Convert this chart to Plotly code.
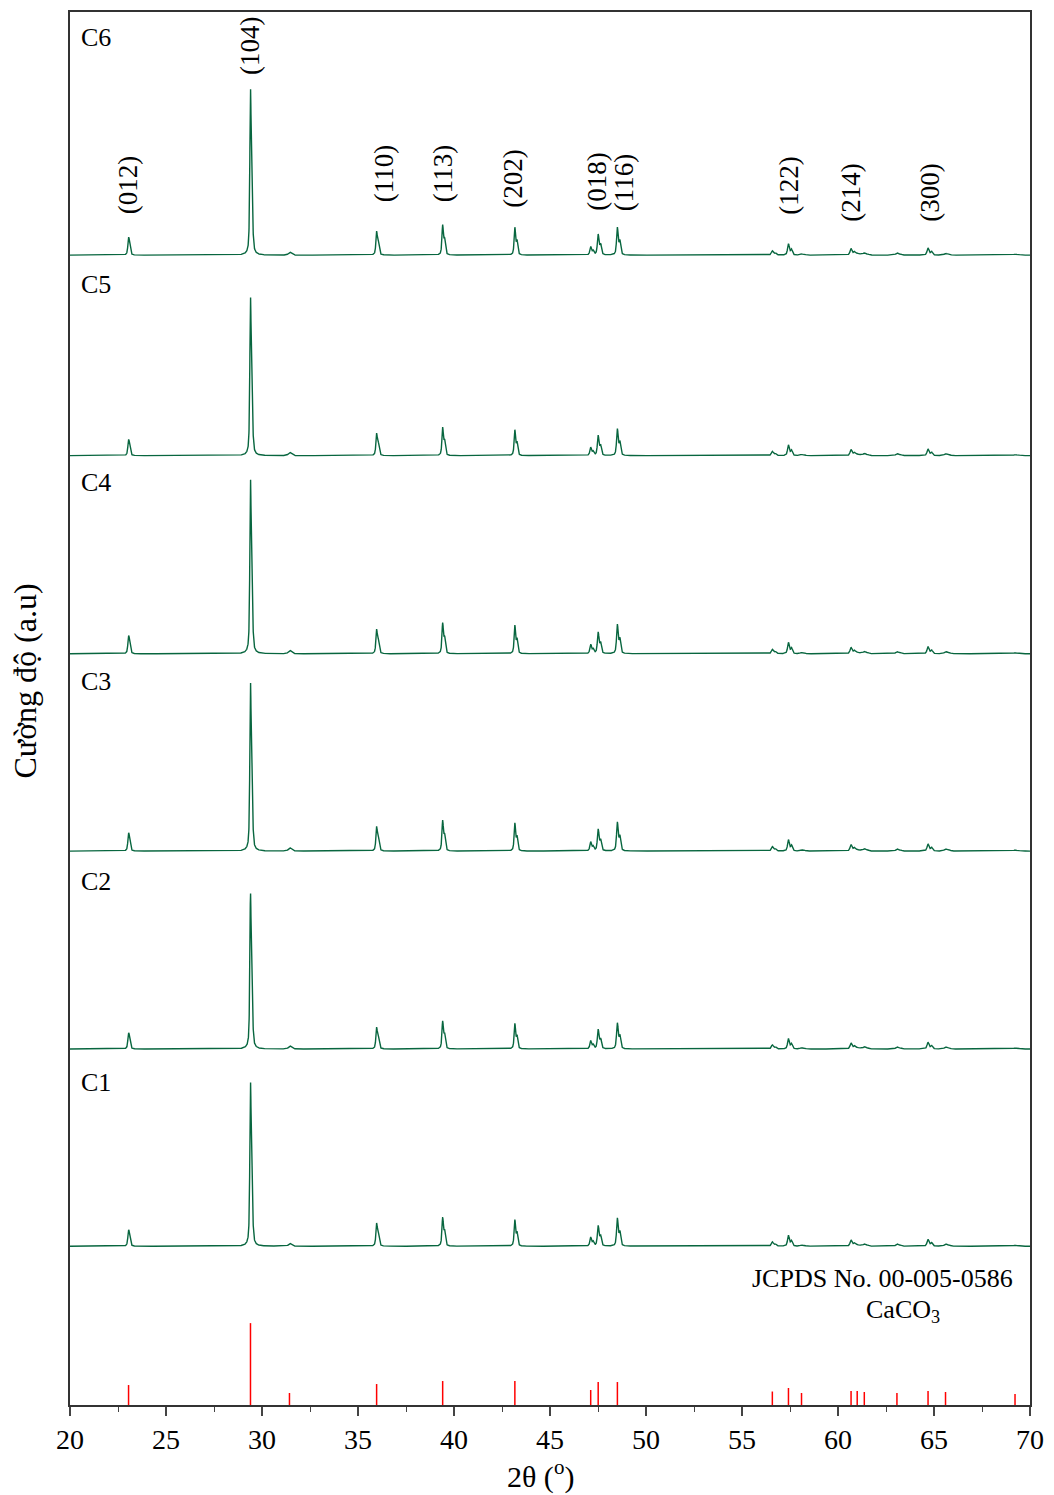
import numpy as np
import plotly.graph_objects as go

# Calcite reflections (2-theta, degrees)
peak_pos = [23.05, 29.40, 31.43, 35.97, 39.41, 43.17, 47.12, 47.51, 48.51,
            56.58, 57.42, 58.10, 60.68, 61.00, 61.37, 63.07, 64.69, 65.60, 69.22]
peak_fwhm = [0.09, 0.08, 0.15, 0.09, 0.09, 0.09, 0.10, 0.10, 0.10,
             0.12, 0.11, 0.14, 0.12, 0.14, 0.14, 0.14, 0.12, 0.16, 0.16]

samples = ["C1", "C2", "C3", "C4", "C5", "C6"]
# peak heights per sample (a.u.)
h_C1 = [16.5, 164.0, 2.7, 23.3, 29.3, 26.7, 9.0, 20.7, 28.4, 4.3, 11.0, 1.2, 6.3, 1.5, 2.3, 2.3, 7.0, 2.3, 1.0]
h_C2 = [16.3, 155.7, 3.0, 22.0, 28.3, 25.7, 8.3, 19.7, 26.3, 4.0, 10.5, 1.2, 6.0, 1.5, 2.2, 2.2, 6.8, 2.0, 1.0]
h_C3 = [18.3, 168.3, 3.3, 24.7, 31.0, 28.3, 9.3, 22.0, 29.3, 4.5, 11.5, 1.2, 6.5, 1.5, 2.3, 2.3, 7.2, 2.2, 1.0]
h_C4 = [18.3, 174.3, 3.3, 24.7, 31.3, 28.7, 9.3, 21.7, 29.7, 4.5, 11.5, 1.2, 6.5, 1.5, 2.3, 2.3, 7.2, 2.2, 1.0]
h_C5 = [16.3, 158.3, 3.3, 22.6, 28.6, 26.0, 8.3, 20.3, 27.0, 4.2, 10.8, 1.2, 6.2, 1.5, 2.2, 2.2, 6.8, 2.0, 1.0]
h_C6 = [18.0, 166.0, 3.0, 24.0, 30.5, 28.0, 8.5, 21.0, 28.0, 4.3, 11.5, 1.2, 6.6, 1.8, 2.2, 2.3, 7.2, 1.8, 1.0]
heights = [h_C1, h_C2, h_C3, h_C4, h_C5, h_C6]
# vertical stacking offsets (a.u.)
offsets = [159.0, 356.5, 554.7, 752.3, 950.7, 1151.5]

# JCPDS 00-005-0586 reference lines
ref_pos = peak_pos
ref_int = [20, 82, 12, 21, 24, 24, 15, 23, 23, 13.5, 17, 12, 14, 14, 13, 12, 14, 13, 11]

# Miller indices labelled above the top pattern
hkl_text = ["(012)", "(104)", "(110)", "(113)", "(202)", "(018)", "(116)", "(122)", "(214)", "(300)"]
hkl_x = [23.0, 29.38, 36.35, 39.43, 43.07, 47.45, 48.85, 57.45, 60.68, 64.8]
hkl_y = [1190, 1330, 1203, 1202, 1197, 1194, 1194, 1190, 1183, 1183]

label_y = [323, 524, 725, 924, 1122, 1369]

LAMBDA_RATIO = 1.54443 / 1.54056   # Cu Ka2 / Ka1
grid = np.arange(20.0, 70.0001, 0.005)


def pv(x, c, w, eta=0.55):
    g = np.exp(-4 * np.log(2) * ((x - c) / w) ** 2)
    l = 1.0 / (1.0 + 4 * ((x - c) / w) ** 2)
    return eta * l + (1 - eta) * g


def pattern(h):
    y = np.zeros_like(grid)
    for c, w, a in zip(peak_pos, peak_fwhm, h):
        th = np.radians(c / 2)
        c2 = 2 * np.degrees(np.arcsin(min(np.sin(th) * LAMBDA_RATIO, 1.0)))
        prof = pv(grid, c, w) + 0.5 * pv(grid, c2, w)
        y += a * prof / prof.max()
    return y


fig = go.Figure()
line_color = "#08663f"
for name, h, off in zip(samples, heights, offsets):
    fig.add_trace(go.Scatter(x=grid, y=pattern(h) + off, mode="lines",
                             line=dict(color=line_color, width=1.4),
                             name=name, showlegend=False, hoverinfo="skip"))

sx, sy = [], []
for p, i in zip(ref_pos, ref_int):
    sx += [p, p, None]
    sy += [0, i, None]
fig.add_trace(go.Scatter(x=sx, y=sy, mode="lines", line=dict(color="#ff0000", width=1.5),
                         showlegend=False, hoverinfo="skip"))

serif = "Liberation Serif, Times New Roman, serif"
black = "black"
ann = []
for name, y in zip(samples, label_y):
    ann.append(dict(x=20.45, y=y, text=name, showarrow=False, xanchor="left",
                    yanchor="middle", font=dict(family=serif, size=26, color=black)))
for t, x, y in zip(hkl_text, hkl_x, hkl_y):
    ann.append(dict(x=x, y=y, text=t, showarrow=False, textangle=-90,
                    xanchor="center", yanchor="bottom",
                    font=dict(family=serif, size=27, color=black)))
ann.append(dict(x=69.2, y=127, text="JCPDS No. 00-005-0586", showarrow=False,
                xanchor="right", yanchor="middle", font=dict(family=serif, size=26, color=black)))
ann.append(dict(x=63.4, y=94, text="CaCO<sub>3</sub>", showarrow=False,
                xanchor="center", yanchor="middle", font=dict(family=serif, size=26, color=black)))
# axis titles
ann.append(dict(xref="paper", yref="paper", x=-0.047, y=0.52, text="Cường độ (a.u)",
                showarrow=False, textangle=-90, xanchor="center", yanchor="middle",
                font=dict(family=serif, size=32, color=black)))
ann.append(dict(xref="paper", yref="paper", x=0.49, y=-0.05, text="2θ (<sup>o</sup>)",
                showarrow=False, xanchor="center", yanchor="middle",
                font=dict(family=serif, size=30, color=black)))

fig.update_layout(
    width=1054, height=1495,
    margin=dict(l=70, r=24, t=10, b=90),
    plot_bgcolor="white", paper_bgcolor="white",
    font=dict(family=serif, color=black),
    annotations=ann,
    xaxis=dict(range=[20, 70], tickvals=[20, 25, 30, 35, 40, 45, 50, 55, 60, 65, 70],
               ticks="outside", ticklen=9, tickwidth=1.5, tickcolor="#444",
               minor=dict(dtick=2.5, ticks="outside", ticklen=5, tickwidth=1.2, tickcolor="#444"),
               showline=True, linecolor="#333", linewidth=1.5, mirror=True,
               showgrid=False, zeroline=False,
               tickfont=dict(family=serif, size=28, color=black)),
    yaxis=dict(range=[0, 1395], showticklabels=False, ticks="",
               showline=True, linecolor="#333", linewidth=1.5, mirror=True,
               showgrid=False, zeroline=False),
)

fig.write_html("out.html")
